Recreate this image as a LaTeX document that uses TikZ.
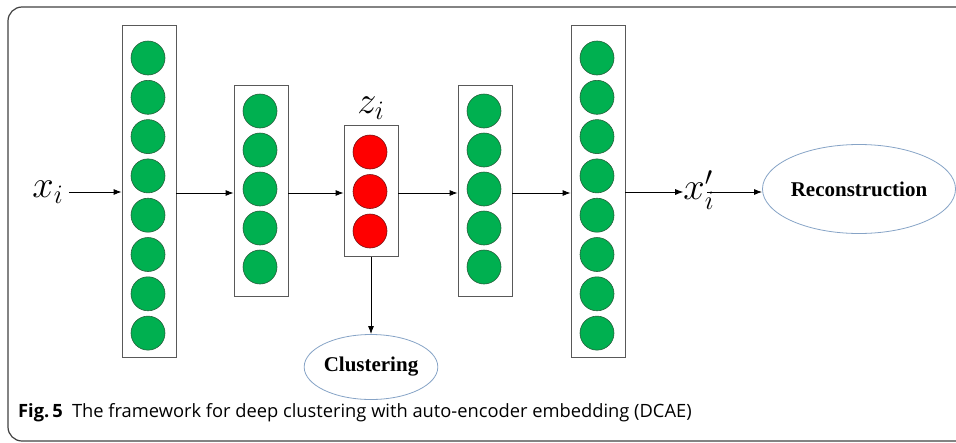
\documentclass[tikz,border=0pt]{standalone}
\usepackage{graphicx}
\usepackage{fontspec}
\usetikzlibrary{arrows.meta,shapes.geometric}
\newfontfamily\capfont{Open Sans}
\newfontfamily\ovalfont{Liberation Serif}

\definecolor{unitgreen}{HTML}{00B050}
\definecolor{unitgreenline}{HTML}{24603A}
\definecolor{unitred}{HTML}{FF0000}
\definecolor{unitredline}{HTML}{7A1010}
\definecolor{ovalblue}{HTML}{86A3C6}

\newcommand{\bigmath}[1]{\scalebox{1.85}{\huge$#1$}}

\begin{document}
\begin{tikzpicture}[x=1pt,y=-1pt]
  \useasboundingbox (0,0) rectangle (956,442);
  \tikzstyle{LayerStyle}=[draw=black!65,line width=0.8pt,inner sep=0pt,minimum width=54]
  \tikzstyle{UnitStyle}=[circle,draw=unitgreenline,fill=unitgreen,line width=0.6pt,minimum size=34,inner sep=0pt]
  \tikzstyle{CodeStyle}=[UnitStyle,draw=unitredline,fill=unitred]
  \tikzstyle{OvalStyle}=[ellipse,draw=ovalblue,line width=0.8pt,inner sep=0pt,font=\ovalfont\bfseries\fontsize{21}{25}\selectfont]
  \tikzstyle{EdgeStyle}=[->,>={Latex[length=8,width=6]},line width=0.8pt]
  \tikzstyle{MathStyle}=[inner sep=0pt]
  % outer frame, open on the right
  \draw[black!75,line width=1.2pt,rounded corners=14pt] (990,7) -- (8,7) -- (8,441) -- (990,441);
  % layers of the auto-encoder
  \node[LayerStyle,minimum height=332] (enc1) at (149,191) {};
  \node[LayerStyle,minimum height=211] (enc2) at (261,191) {};
  \node[LayerStyle,minimum height=131] (code) at (371,191) {};
  \node[LayerStyle,minimum height=211] (dec1) at (485,191) {};
  \node[LayerStyle,minimum height=332] (dec2) at (598,191) {};
  \foreach \k in {0,...,7} {
    \node[UnitStyle] (e1\k) at (148,{58+39.3*\k}) {};
    \node[UnitStyle] (d2\k) at (597,{58+39.3*\k}) {};
  }
  \foreach \k in {0,...,4} {
    \node[UnitStyle] (e2\k) at (260,{111+39*\k}) {};
    \node[UnitStyle] (d1\k) at (484,{111+39*\k}) {};
  }
  \foreach \k in {0,...,2}
    \node[CodeStyle] (c\k) at (370,{152+39.5*\k}) {};
  % input, code, output
  \node[MathStyle] (xin) at (48,192) {\bigmath{x_i}};
  \node[MathStyle] (zcode) at (371,108) {\bigmath{z_i}};
  \node[MathStyle] (xout) at (699,190) {\bigmath{x_i'}};
  \node[OvalStyle,minimum width=165,minimum height=89] (recon) at (859,189) {Reconstruction};
  \node[OvalStyle,minimum width=131,minimum height=65] (clust) at (371,367) {Clustering};
  \draw[EdgeStyle] (xin.east |- 0,192) ++(5,0) -- (enc1.west |- 0,192);
  \draw[EdgeStyle] (enc1.east |- 0,193) -- (enc2.west |- 0,193);
  \draw[EdgeStyle] (enc2.east |- 0,193) -- (code.west |- 0,193);
  \draw[EdgeStyle] (code.east |- 0,193) -- (dec1.west |- 0,193);
  \draw[EdgeStyle] (dec1.east |- 0,193) -- (dec2.west |- 0,193);
  \draw[EdgeStyle] (dec2.east |- 0,192) -- (xout.west |- 0,192);
  \draw[EdgeStyle] (xout.west |- 0,192) ++(24,0) -- (recon.west |- 0,192);
  \draw[EdgeStyle] (code) -- (clust);
  % caption
  \node[anchor=base west,inner sep=0pt] (caption) at (18,417)
    {\capfont\fontsize{18.3}{22}\selectfont\textbf{Fig.\,5}\hspace{0.5em}The framework for deep clustering with auto-encoder embedding (DCAE)};
\end{tikzpicture}
\end{document}
